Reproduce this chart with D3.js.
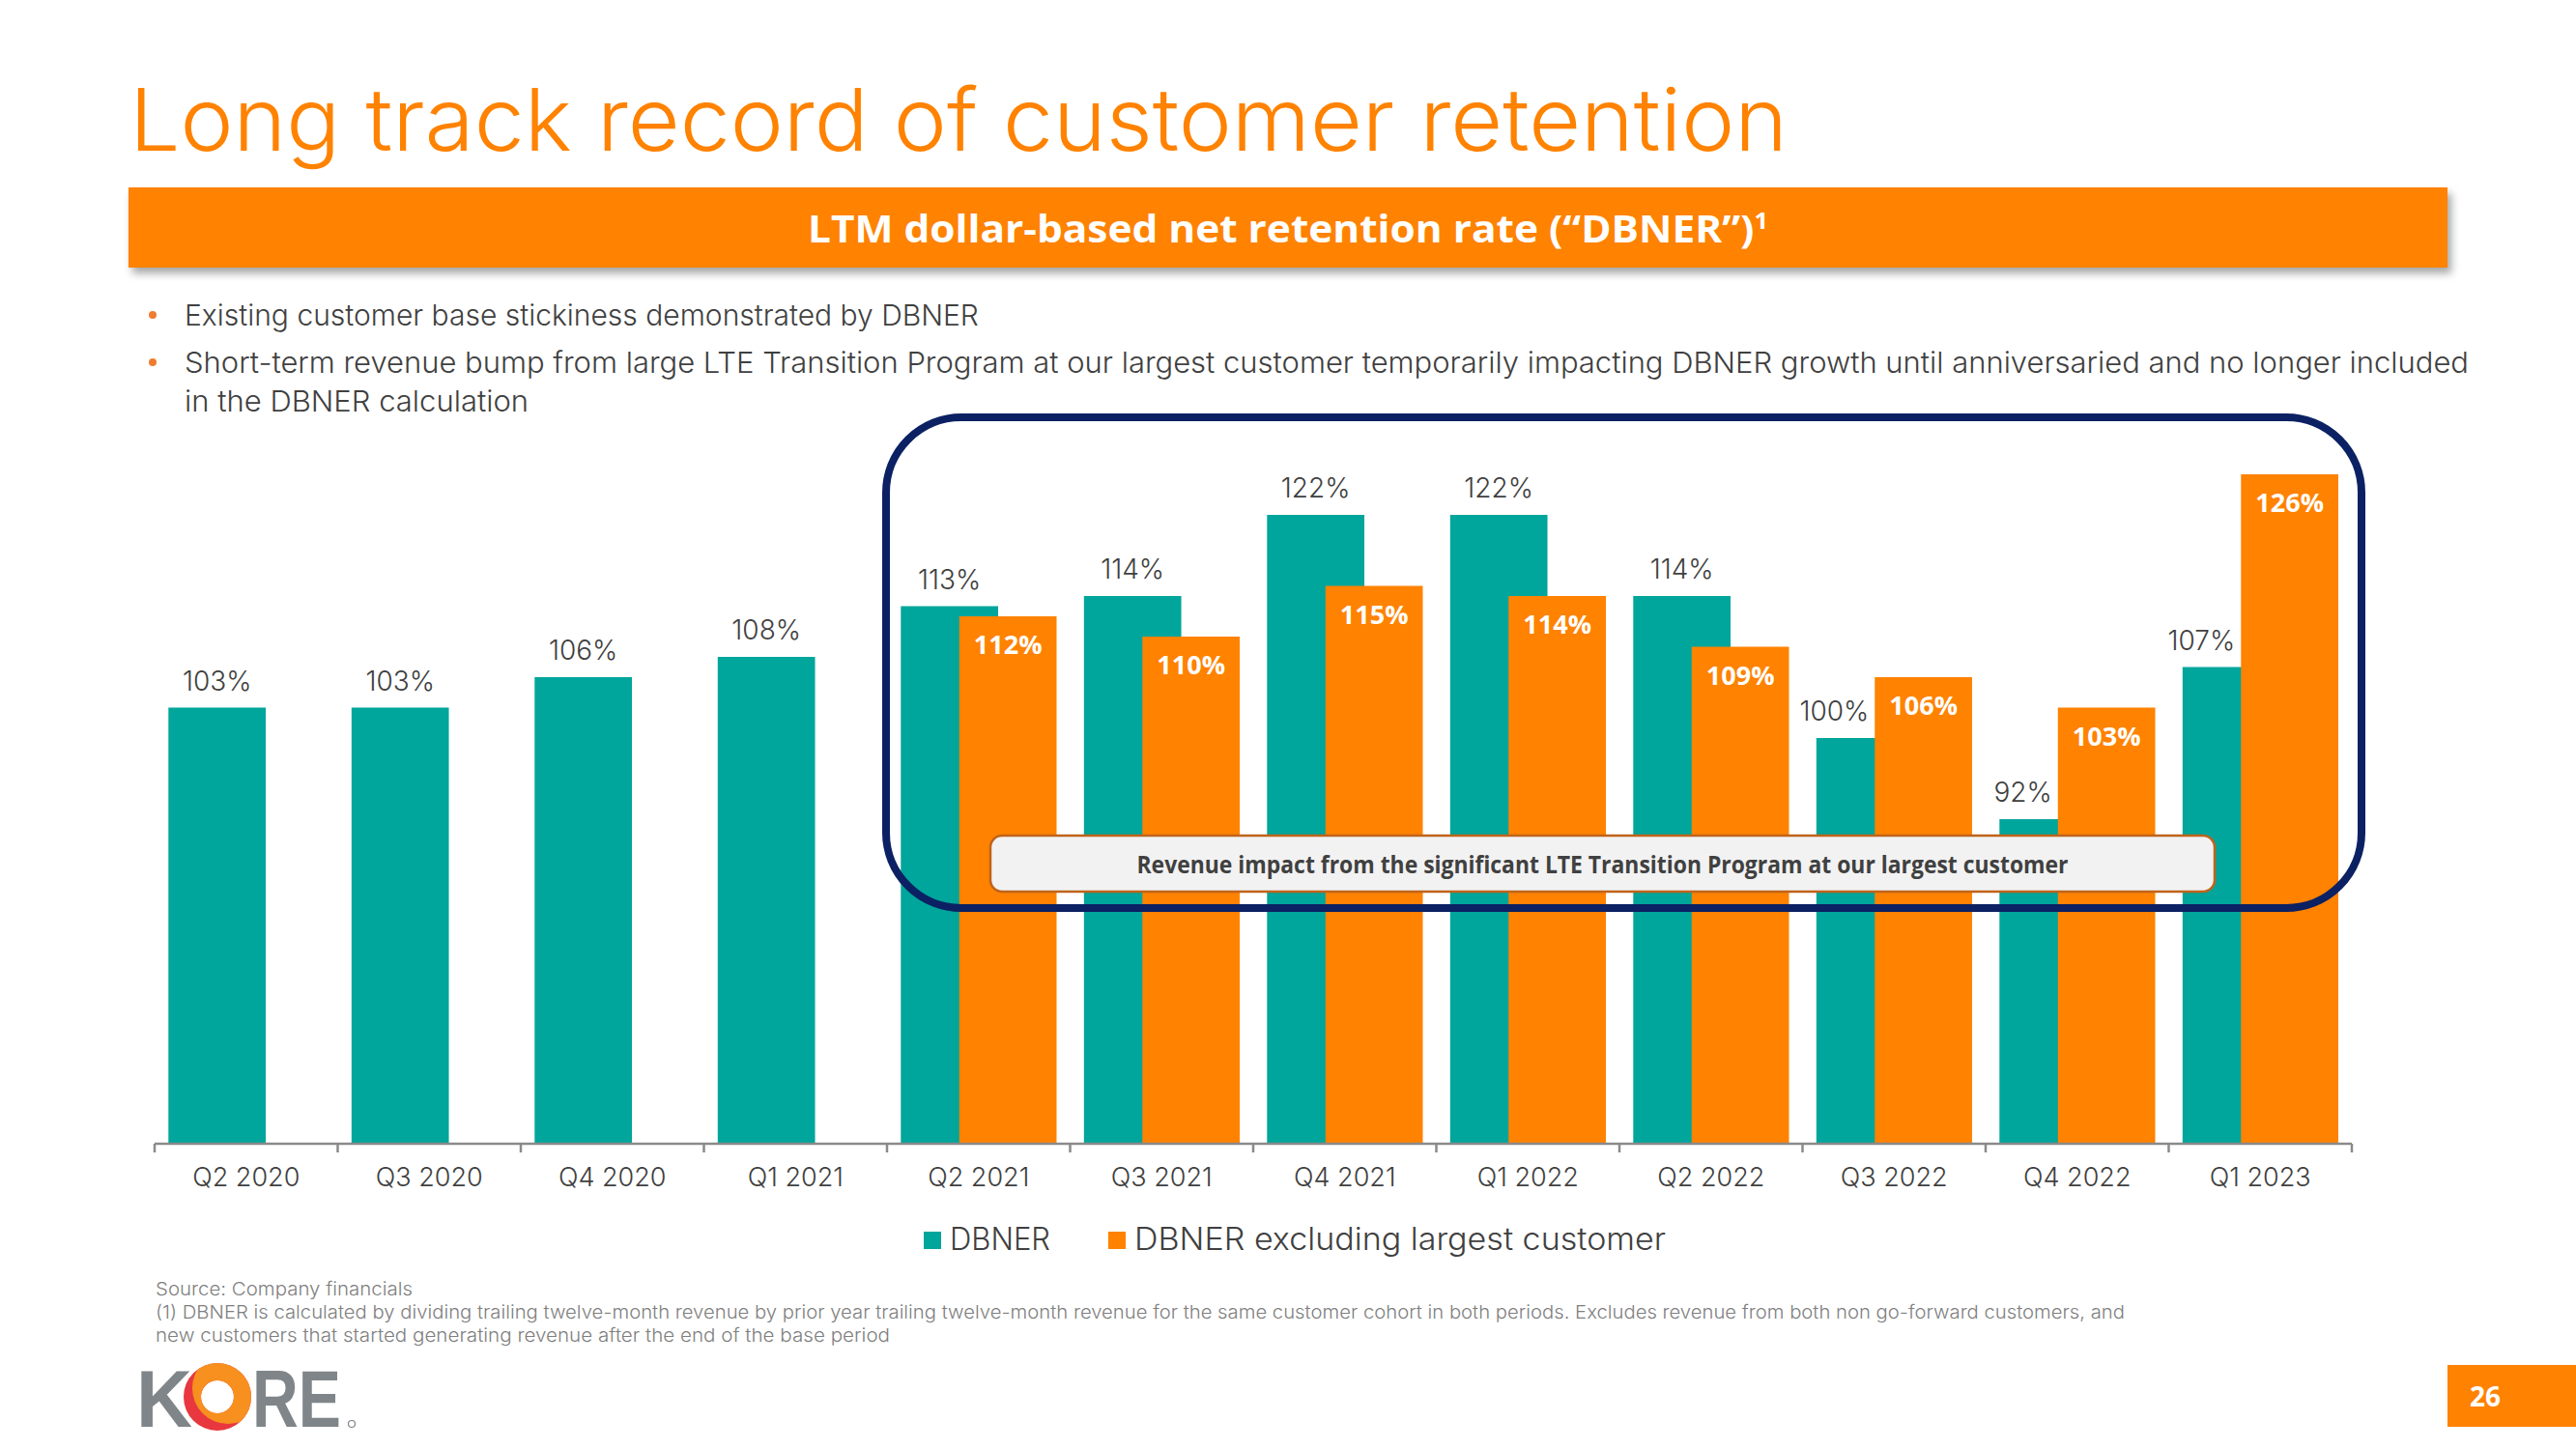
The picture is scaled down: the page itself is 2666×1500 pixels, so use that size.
<!DOCTYPE html>
<html><head><meta charset="utf-8">
<script src="https://cdn.jsdelivr.net/npm/d3@7"></script>
<style>body{margin:0;background:#fff}svg{display:block}</style>
</head><body>
<script>
// ---------- data ----------
const categories = ["Q2 2020","Q3 2020","Q4 2020","Q1 2021","Q2 2021","Q3 2021","Q4 2021","Q1 2022","Q2 2022","Q3 2022","Q4 2022","Q1 2023"];
const dbner = [103,103,106,108,113,114,122,122,114,100,92,107];
const dbnerExcl = [null,null,null,null,112,110,115,114,109,106,103,126];
const seriesNames = ["DBNER","DBNER excluding largest customer"];
const titleText = "Long track record of customer retention";
const headerText = "LTM dollar-based net retention rate (“DBNER”)";
const bulletLines = [
  ["Existing customer base stickiness demonstrated by DBNER"],
  ["Short-term revenue bump from large LTE Transition Program at our largest customer temporarily impacting DBNER growth until anniversaried and no longer included",
   "in the DBNER calculation"]
];
const calloutText = "Revenue impact from the significant LTE Transition Program at our largest customer";
const footnotes = [
  "Source: Company financials",
  "(1) DBNER is calculated by dividing trailing twelve-month revenue by prior year trailing twelve-month revenue for the same customer cohort in both periods. Excludes revenue from both non go-forward customers, and",
  "new customers that started generating revenue after the end of the base period"
];
const pageNumber = "26";

// ---------- styles ----------
const W = 2666, H = 1500;
const TEAL = "#00A59B", ORANGE = "#FF8200", NAVY = "#0B2163", TXT = "#404040";
const LIGHT = "Inter, 'Open Sans', Lato, sans-serif";
const BOLD = "'Open Sans', Lato, 'Noto Sans', sans-serif";

const svg = d3.select("body").append("svg").attr("width", W).attr("height", H);
const defs = svg.append("defs");

function fit(sel, target) {
  sel.each(function () {
    const w = this.getComputedTextLength();
    if (Math.abs(w - target) / target > 0.01) {
      d3.select(this).attr("textLength", target).attr("lengthAdjust", "spacingAndGlyphs");
    }
  });
}

// ---------- title ----------
svg.append("text").attr("x", 134).attr("y", 156)
  .attr("font-family", LIGHT).attr("font-weight", 300).attr("font-size", 90)
  .attr("fill", ORANGE).text(titleText).call(fit, 1716);

// ---------- header bar ----------
const sh = defs.append("filter").attr("id", "shadow").attr("x", "-5%").attr("y", "-30%").attr("width", "110%").attr("height", "170%");
sh.append("feDropShadow").attr("dx", 4).attr("dy", 6).attr("stdDeviation", 4)
  .attr("flood-color", "#000").attr("flood-opacity", 0.35);
svg.append("rect").attr("x", 133).attr("y", 194).attr("width", 2400).attr("height", 83)
  .attr("fill", ORANGE).attr("filter", "url(#shadow)");
const ht = svg.append("text").attr("x", 1333).attr("y", 251).attr("text-anchor", "middle")
  .attr("font-family", BOLD).attr("font-weight", 700).attr("font-size", 40).attr("fill", "#fff");
ht.append("tspan").text(headerText);
ht.append("tspan").attr("font-size", 24).attr("dy", -14).text("1");
fit(ht, 994);

// ---------- bullets ----------
const bulletY = [[337], [386, 426]];
const bulletWidths = [[829], [2364, 356]];
bulletLines.forEach((lines, i) => {
  svg.append("circle").attr("cx", 158).attr("cy", bulletY[i][0] - 11).attr("r", 4).attr("fill", "#ED7D31");
  lines.forEach((l, j) => {
    svg.append("text").attr("x", 191).attr("y", bulletY[i][j])
      .attr("font-family", LIGHT).attr("font-weight", 300).attr("font-size", 30).attr("fill", TXT)
      .text(l).call(fit, bulletWidths[i][j]);
  });
});

// ---------- chart ----------
const x = d3.scaleBand().domain(categories).range([160, 2434]).padding(0);
const y = d3.scaleLinear().domain([60, 130]).range([1184, 449]);
const bw = x.bandwidth();
const barW = bw * 0.5315, tealOff = bw * 0.0755, orOff = bw * 0.3946;

const data = categories.map((c, i) => ({ c, a: dbner[i], b: dbnerExcl[i] }));
const g = svg.append("g");

g.selectAll("rect.teal").data(data).join("rect").attr("class", "teal")
  .attr("x", d => x(d.c) + tealOff).attr("width", barW)
  .attr("y", d => y(d.a)).attr("height", d => y(60) - y(d.a)).attr("fill", TEAL);

g.selectAll("rect.or").data(data.filter(d => d.b != null)).join("rect").attr("class", "or")
  .attr("x", d => x(d.c) + orOff).attr("width", barW)
  .attr("y", d => y(d.b)).attr("height", d => y(60) - y(d.b)).attr("fill", ORANGE);

// teal labels
g.selectAll("text.tl").data(data).join("text").attr("class", "tl")
  .attr("x", d => (d.b != null && d.b > d.a) ? x(d.c) + orOff - 6 : x(d.c) + tealOff + barW / 2)
  .attr("text-anchor", d => (d.b != null && d.b > d.a) ? "end" : "middle")
  .attr("y", d => y(d.a) - 18)
  .attr("font-family", LIGHT).attr("font-weight", 300).attr("font-size", 28).attr("fill", TXT)
  .text(d => d.a + "%");

// orange labels
g.selectAll("text.ol").data(data.filter(d => d.b != null)).join("text").attr("class", "ol")
  .attr("x", d => x(d.c) + orOff + barW / 2).attr("text-anchor", "middle")
  .attr("y", d => y(d.b) + 39)
  .attr("font-family", BOLD).attr("font-weight", 700).attr("font-size", 27).attr("fill", "#fff")
  .text(d => d.b + "%");

// axis
const axisG = svg.append("g").attr("transform", `translate(0,${y(60)})`)
  .call(d3.axisBottom(x).tickSize(0).tickPadding(0));
axisG.select(".domain").remove();
axisG.selectAll("text").attr("y", 44).attr("dy", 0)
  .attr("font-family", LIGHT).attr("font-weight", 300).attr("font-size", 27).attr("fill", TXT);
axisG.append("line").attr("x1", x.range()[0]).attr("x2", x.range()[1]).attr("y1", 0).attr("y2", 0)
  .attr("stroke", "#8A8A8A").attr("stroke-width", 2.5);
const bounds = categories.map(c => x(c)).concat([x.range()[1]]);
axisG.selectAll("line.bt").data(bounds).join("line").attr("class", "bt")
  .attr("x1", d => d).attr("x2", d => d).attr("y1", 0).attr("y2", 9)
  .attr("stroke", "#8A8A8A").attr("stroke-width", 2.5);

// navy highlight frame
svg.append("rect").attr("x", 917).attr("y", 432).attr("width", 1527).attr("height", 508)
  .attr("rx", 78).attr("ry", 78).attr("fill", "none").attr("stroke", NAVY).attr("stroke-width", 8);

// callout box
svg.append("rect").attr("x", 1025).attr("y", 865).attr("width", 1267).attr("height", 58)
  .attr("rx", 12).attr("fill", "#F2F2F2").attr("stroke", "#C0631B").attr("stroke-width", 2.5);
svg.append("text").attr("x", 1658.5).attr("y", 904).attr("text-anchor", "middle")
  .attr("font-family", BOLD).attr("font-weight", 700).attr("font-size", 25).attr("fill", TXT)
  .text(calloutText).call(fit, 964);

// legend
const legX = [956, 1147], legW = [104, 550];
seriesNames.forEach((n, i) => {
  svg.append("rect").attr("x", legX[i]).attr("y", 1275).attr("width", 18).attr("height", 18)
    .attr("fill", i === 0 ? TEAL : ORANGE);
  svg.append("text").attr("x", legX[i] + 27).attr("y", 1294)
    .attr("font-family", LIGHT).attr("font-weight", 300).attr("font-size", 32).attr("fill", TXT)
    .text(n).call(fit, legW[i]);
});

// footnotes
const fnY = [1341, 1365, 1389], fnW = [266, 2038, 760];
footnotes.forEach((f, i) => {
  svg.append("text").attr("x", 161).attr("y", fnY[i])
    .attr("font-family", LIGHT).attr("font-weight", 300).attr("font-size", 19).attr("fill", "#7F7F7F")
    .text(f).call(fit, fnW[i]);
});

// page number
svg.append("rect").attr("x", 2533).attr("y", 1413).attr("width", 133).attr("height", 64).attr("fill", ORANGE);
svg.append("text").attr("x", 2572).attr("y", 1456).attr("text-anchor", "middle")
  .attr("font-family", BOLD).attr("font-weight", 700).attr("font-size", 28).attr("fill", "#fff").text(pageNumber);

// KORE logo
const LG = "#7F8589";
const logo = svg.append("g");
logo.append("text").attr("x", 141).attr("y", 1477).attr("font-family", "'Liberation Sans', Arial, sans-serif")
  .attr("font-weight", 700).attr("font-size", 84).attr("fill", LG).text("K").call(fit, 58);
const ring = (cx, cy, r1, r2) => `M${cx - r1},${cy}a${r1},${r1} 0 1,0 ${2 * r1},0a${r1},${r1} 0 1,0 ${-2 * r1},0Z M${cx - r2},${cy}a${r2},${r2} 0 1,1 ${2 * r2},0a${r2},${r2} 0 1,1 ${-2 * r2},0Z`;
defs.append("clipPath").attr("id", "oclip").append("circle").attr("cx", 236).attr("cy", 1437).attr("r", 37);
logo.append("path").attr("d", ring(225, 1446, 35, 17)).attr("fill", "#E8373E").attr("fill-rule", "evenodd");
logo.append("path").attr("d", ring(225, 1446, 35, 17)).attr("fill", "#F7901E").attr("fill-rule", "evenodd").attr("clip-path", "url(#oclip)");
logo.append("text").attr("x", 261).attr("y", 1477).attr("font-family", "'Liberation Sans', Arial, sans-serif")
  .attr("font-weight", 700).attr("font-size", 84).attr("fill", LG).text("RE").call(fit, 92);
// registered mark drawn as a tiny ring
logo.append("circle").attr("cx", 364).attr("cy", 1474).attr("r", 3.5)
  .attr("fill", "none").attr("stroke", LG).attr("stroke-width", 1.2);
</script>
</body></html>
